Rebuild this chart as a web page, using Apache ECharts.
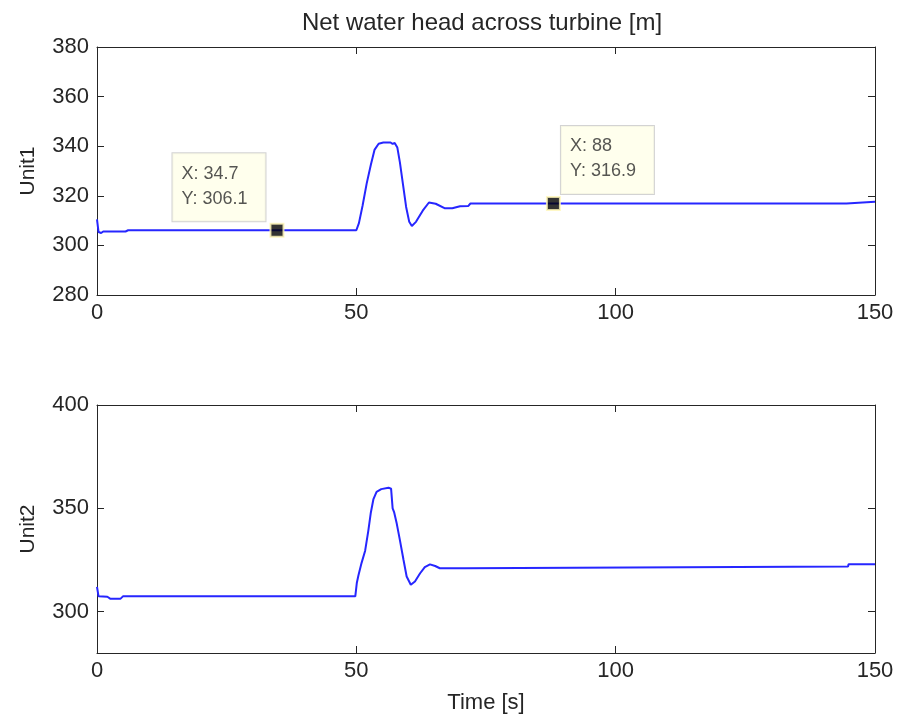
<!DOCTYPE html>
<html>
<head>
<meta charset="utf-8">
<script src="https://cdn.jsdelivr.net/npm/echarts@6/dist/echarts.min.js"></script>
<style>
  html, body { margin: 0; padding: 0; background: #fff; }
  #chart { width: 900px; height: 720px; }
</style>
</head>
<body>
<div id="chart"></div>
<script>
// Net water head across the turbine for two units, sampled over 150 s
const timeTicks = [0, 50, 100, 150];
const unit1Ticks = [280, 300, 320, 340, 360, 380];
const unit2Ticks = [300, 350, 400];

const unit1Time = [0, 0.3, 0.8, 1.2, 5.5, 6.0, 50.0, 50.5, 51.2, 52.0, 52.8, 53.5, 54.3, 55.2, 56.6, 57.0, 57.4, 57.9, 58.4, 59.0, 59.6, 60.2, 60.7, 61.5, 62.8, 64.0, 65.3, 67.0, 68.5, 70.0, 71.6, 72.0, 88.0, 144.5, 144.6, 150];
const unit1Head = [310.5, 305.4, 305.0, 305.6, 305.6, 306.1, 306.1, 309.0, 316.0, 325.0, 332.5, 338.5, 341.0, 341.5, 341.5, 340.9, 341.3, 339.5, 333.5, 324.5, 315.5, 309.5, 307.8, 309.5, 314.0, 317.3, 316.8, 315.0, 315.0, 315.8, 315.9, 316.9, 316.9, 316.9, 317.6, 317.6];

const unit2Time = [0, 0.3, 2.0, 2.6, 4.5, 5.0, 49.8, 50.1, 50.4, 51.0, 51.7, 52.3, 52.8, 53.3, 53.9, 54.8, 56.2, 56.7, 57.0, 57.3, 57.8, 58.4, 59.1, 59.7, 60.5, 61.3, 62.3, 63.2, 64.2, 65.2, 66.1, 70.9, 71.0, 144.8, 144.9, 150];
const unit2Head = [312.0, 307.4, 307.2, 306.2, 306.2, 307.4, 307.4, 314.0, 317.5, 323.5, 329.5, 339.0, 348.0, 354.5, 358.0, 359.3, 360.0, 359.5, 350.0, 348.0, 342.5, 334.6, 325.0, 317.0, 313.0, 314.6, 318.6, 321.6, 322.9, 322.1, 321.0, 321.0, 321.8, 321.8, 322.9, 322.9];

// Data tips placed on the Unit1 trace
const tipTime = [34.7, 88];
const tipHead = [306.1, 316.9];

const FONT = "'Liberation Sans', Arial, sans-serif";
const INK = '#262626';
const TICK_FONT = 22;

function pairs(xs, ys) { return xs.map((x, i) => [x, ys[i]]); }

function xAxes(gridIndex, name) {
  const base = {
    gridIndex, type: 'value', min: timeTicks[0], max: timeTicks[timeTicks.length - 1], interval: 50,
    axisLine: { show: true, onZero: false, lineStyle: { color: INK, width: 1 } },
    axisTick: { show: true, inside: true, length: 7, lineStyle: { color: INK } },
    splitLine: { show: false }
  };
  return [
    Object.assign({}, base, {
      position: 'bottom',
      axisLabel: { show: true, color: INK, fontSize: TICK_FONT, fontFamily: FONT, margin: 7 },
      name: name || '', nameLocation: 'middle', nameGap: 39,
      nameTextStyle: { color: INK, fontSize: 22, fontFamily: FONT }
    }),
    Object.assign({}, base, { position: 'top', axisLabel: { show: false } })
  ];
}

function yAxes(gridIndex, ticks, name) {
  const base = {
    gridIndex, type: 'value', min: 280, max: ticks[ticks.length - 1],
    axisLine: { show: true, onZero: false, lineStyle: { color: INK, width: 1 } },
    axisTick: { show: true, inside: true, length: 7, lineStyle: { color: INK }, customValues: ticks },
    splitLine: { show: false }
  };
  return [
    Object.assign({}, base, {
      position: 'left',
      axisLabel: { show: true, color: INK, fontSize: TICK_FONT, fontFamily: FONT, margin: 8, customValues: ticks },
      name, nameLocation: 'middle', nameGap: 58,
      nameTextStyle: { color: INK, fontSize: 21, fontFamily: FONT }
    }),
    Object.assign({}, base, { position: 'right', axisLabel: { show: false } })
  ];
}

const xs = xAxes(0).concat(xAxes(1, 'Time [s]'));
const ys = yAxes(0, unit1Ticks, 'Unit1').concat(yAxes(1, unit2Ticks, 'Unit2'));

const lineStyle = { color: '#2626ff', width: 2 };

// Tip boxes: first sits up-left of its marker, second up-right
const tipOffsets = [[-97, -1.5], [15, -2]];

const option = {
  backgroundColor: '#ffffff',
  animation: false,
  title: {
    text: 'Net water head across turbine [m]',
    left: 477, top: 6, textAlign: 'center',
    textStyle: { color: INK, fontSize: 24, fontWeight: 'normal', fontFamily: FONT }
  },
  grid: [
    { left: 97, right: 25, top: 47, height: 248 },
    { left: 97, right: 25, top: 405, height: 248 }
  ],
  xAxis: xs,
  yAxis: ys,
  series: [
    {
      type: 'line', xAxisIndex: 0, yAxisIndex: 0, data: pairs(unit1Time, unit1Head),
      showSymbol: false, lineStyle, itemStyle: { color: lineStyle.color }, z: 2
    },
    {
      type: 'line', xAxisIndex: 2, yAxisIndex: 2, data: pairs(unit2Time, unit2Head),
      showSymbol: false, lineStyle, itemStyle: { color: lineStyle.color }, z: 2
    },
    {
      type: 'scatter', xAxisIndex: 0, yAxisIndex: 0, z: 5,
      symbol: 'rect', symbolSize: 13,
      itemStyle: { color: '#000000', borderColor: '#fff6b8', borderWidth: 2 },
      data: tipTime.map((t, i) => ({
        value: [t, tipHead[i]],
        label: {
          show: true,
          formatter: 'X: ' + t + '\nY: ' + tipHead[i].toFixed(1),
          position: tipOffsets[i],
          align: 'left',
          verticalAlign: 'bottom',
          color: '#2a2a2a', fontSize: 18, fontFamily: FONT, lineHeight: 25,
          backgroundColor: '#ffffe8', borderColor: '#c8c8c8', borderWidth: 1,
          padding: [8, 10, 10, 9], width: 74
        }
      }))
    }
  ]
};

const chart = echarts.init(document.getElementById('chart'), null, { renderer: 'canvas' });
chart.setOption(option);
</script>
</body>
</html>
